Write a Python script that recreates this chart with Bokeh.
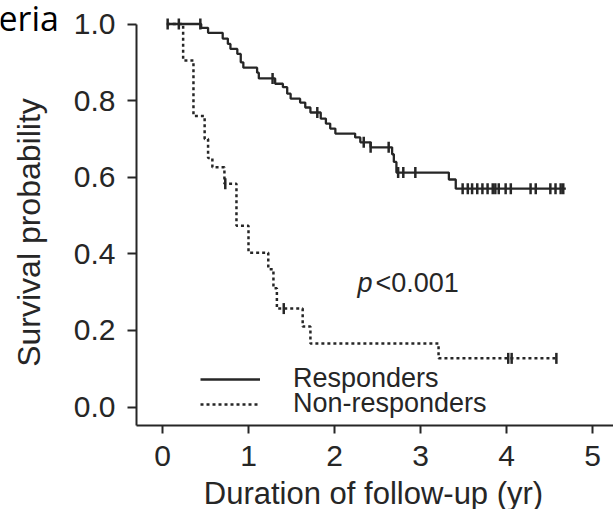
import numpy as np
from bokeh.plotting import figure
from bokeh.models import Range1d, FixedTicker, PrintfTickFormatter, Label, Legend, LegendItem
from bokeh.embed import file_html
from bokeh.resources import INLINE

# ---- data ----
resp_t = [0.05, 0.45, 0.53, 0.70, 0.76, 0.79, 0.87, 0.91, 0.94, 1.10, 1.12, 1.31, 1.40, 1.45,
          1.49, 1.60, 1.66, 1.72, 1.84, 1.90, 1.95, 2.01, 2.24, 2.30, 2.42, 2.67, 2.69, 2.72,
          3.33, 3.41, 4.69]
resp_s = [1.0, 0.99, 0.977, 0.962, 0.948, 0.935, 0.922, 0.90, 0.886, 0.873, 0.858, 0.844, 0.835,
          0.818, 0.805, 0.795, 0.782, 0.769, 0.753, 0.740, 0.727, 0.714, 0.704, 0.691, 0.678,
          0.66, 0.64, 0.612, 0.594, 0.570, 0.570]
resp_cens_t = [0.06, 0.19, 0.44, 1.28, 1.80, 2.34, 2.42, 2.63, 2.74, 2.80, 2.94,
               3.49, 3.55, 3.60, 3.66, 3.72, 3.78, 3.84, 3.87, 3.91, 3.99, 4.05,
               4.28, 4.34, 4.51, 4.57, 4.63, 4.66]

non_t = [0.05, 0.24, 0.36, 0.49, 0.53, 0.58, 0.72, 0.86, 1.00, 1.23, 1.29, 1.33, 1.63, 1.72,
         3.21, 4.60]
non_s = [1.0, 0.905, 0.76, 0.70, 0.65, 0.626, 0.583, 0.473, 0.403, 0.36, 0.31, 0.257, 0.21,
         0.166, 0.127, 0.127]
non_cens_t = [0.73, 1.41, 4.02, 4.06, 4.58]

x_ticks = [0, 1, 2, 3, 4, 5]
y_ticks = [0.0, 0.2, 0.4, 0.6, 0.8, 1.0]

INK = "#262626"
FONT = "Liberation Sans"

# axis placement (data coordinates where the two axes cross)
X_AXIS_AT = -0.0483
Y_AXIS_AT = -0.3023


def level_at(ts, ss, c):
    idx = np.searchsorted(np.asarray(ts), np.asarray(c), side="right") - 1
    return list(np.asarray(ss)[idx])


p = figure(width=613, height=509, output_backend="svg", toolbar_location=None,
           x_range=Range1d(-1.8837, 5.2442), y_range=Range1d(-0.2676, 1.0614),
           min_border_left=0, min_border_right=0, min_border_top=0, min_border_bottom=0)
p.outline_line_color = None
p.xgrid.visible = False
p.ygrid.visible = False
p.background_fill_color = "white"
p.border_fill_color = "white"

r_resp = p.step(resp_t, resp_s, mode="after", line_color=INK, line_width=2.3)
r_non = p.step(non_t, non_s, mode="after", line_color=INK, line_width=2.5, line_dash="3 3")
p.scatter(resp_cens_t, level_at(resp_t, resp_s, resp_cens_t), marker="dash", angle=np.pi / 2,
          size=11, line_color=INK, line_width=2.5)
p.scatter(non_cens_t, level_at(non_t, non_s, non_cens_t), marker="dash", angle=np.pi / 2,
          size=11, line_color=INK, line_width=2.5)

for ax in (p.xaxis[0], p.yaxis[0]):
    ax.axis_line_color = INK
    ax.axis_line_width = 2
    ax.major_tick_line_color = INK
    ax.major_tick_line_width = 2
    ax.minor_tick_line_color = None
    ax.major_tick_in = 0
    ax.major_label_text_font = FONT
    ax.major_label_text_font_size = "30px"
    ax.major_label_text_color = INK

p.xaxis[0].ticker = FixedTicker(ticks=x_ticks)
p.xaxis[0].fixed_location = X_AXIS_AT
p.xaxis[0].bounds = (Y_AXIS_AT, 5.2442)
p.xaxis[0].major_tick_out = 8
p.xaxis[0].major_label_standoff = 12
p.yaxis[0].ticker = FixedTicker(ticks=y_ticks)
p.yaxis[0].formatter = PrintfTickFormatter(format="%.1f")
p.yaxis[0].fixed_location = Y_AXIS_AT
p.yaxis[0].bounds = (X_AXIS_AT, 1.0)
p.yaxis[0].major_tick_out = 9
p.yaxis[0].major_label_standoff = 12

common = dict(orientation="vertical", glyph_width=60, glyph_height=20, label_standoff=33,
              padding=0, margin=0, label_text_font=FONT, label_text_font_size="27px",
              label_text_color=INK, border_line_alpha=0, background_fill_alpha=0)
p.add_layout(Legend(items=[LegendItem(label="Responders", renderers=[r_resp])],
                    location=(200, 115), **common))
p.add_layout(Legend(items=[LegendItem(label="Non-responders", renderers=[r_non])],
                    location=(200, 90), **common))

p.add_layout(Label(x=28, y=277, x_units="screen", y_units="screen", text="Survival probability",
                   angle=np.pi / 2, text_align="center", text_baseline="middle",
                   text_font=FONT, text_font_size="32px", text_color=INK))
p.add_layout(Label(x=373, y=16, x_units="screen", y_units="screen",
                   text="Duration of follow-up (yr)", text_align="center",
                   text_baseline="alphabetic", text_font=FONT, text_font_size="31px",
                   text_color=INK))
p.add_layout(Label(x=357, y=227, x_units="screen", y_units="screen", text="p",
                   text_font_style="italic", text_baseline="alphabetic",
                   text_font=FONT, text_font_size="27px", text_color=INK))
p.add_layout(Label(x=375, y=227, x_units="screen", y_units="screen", text="<0.001",
                   text_baseline="alphabetic", text_font=FONT, text_font_size="27px",
                   text_color=INK))
p.add_layout(Label(x=-2, y=492, x_units="screen", y_units="screen", text="eria",
                   text_baseline="alphabetic", text_font="Open Sans", text_font_size="34px",
                   text_color="black"))

open("out.html", "w").write(file_html(p, INLINE))
